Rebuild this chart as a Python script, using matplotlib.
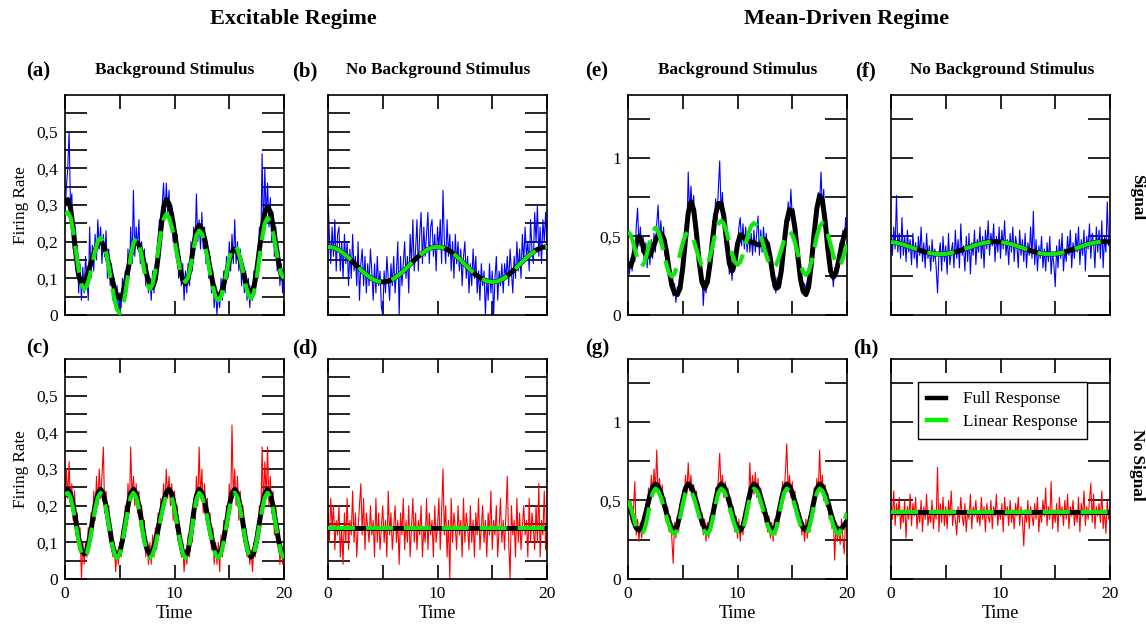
import numpy as np
import matplotlib
matplotlib.use('Agg')
from matplotlib import pyplot as plt
from matplotlib.lines import Line2D
from matplotlib.ticker import FixedLocator, FuncFormatter

plt.rcParams['font.family'] = 'Liberation Serif'

# time axes: smooth responses every 0.25, slow ones every 0.5, spike rates every 0.125
t_fine = np.arange(81) * 0.25
t_slow = np.arange(41) * 0.5
t_noise = np.arange(161) * 0.125
t_flat = [0, 20]

# ---- (a) excitable, background stimulus, signal
a_full = [0.300, 0.315, 0.293, 0.236, 0.164, 0.107, 0.085, 0.091, 0.107, 0.130, 0.155, 0.178, 0.194, 0.200,
          0.192, 0.171, 0.140, 0.105, 0.074, 0.053, 0.045, 0.055, 0.084, 0.123, 0.161, 0.190, 0.200,
          0.192, 0.169, 0.138, 0.106, 0.083, 0.075, 0.098, 0.158, 0.232, 0.292, 0.315,
          0.304, 0.272, 0.226, 0.174, 0.128, 0.096, 0.085, 0.100, 0.140, 0.190, 0.230, 0.245,
          0.235, 0.208, 0.169, 0.126, 0.087, 0.060, 0.050, 0.059, 0.083, 0.115, 0.148, 0.171, 0.180,
          0.172, 0.150, 0.120, 0.090, 0.068, 0.060, 0.075, 0.119, 0.178, 0.236, 0.279, 0.295,
          0.282, 0.245, 0.195, 0.145, 0.108, 0.095]
a_lin = [0.275, 0.280, 0.266, 0.228, 0.175, 0.123, 0.084, 0.070, 0.079, 0.105, 0.140, 0.175, 0.201, 0.210,
         0.200, 0.171, 0.130, 0.085, 0.044, 0.015, 0.005, 0.019, 0.056, 0.108, 0.159, 0.196, 0.210,
         0.197, 0.162, 0.118, 0.083, 0.070, 0.084, 0.121, 0.173, 0.224, 0.261, 0.275,
         0.266, 0.240, 0.203, 0.162, 0.125, 0.099, 0.090, 0.103, 0.138, 0.182, 0.217, 0.230,
         0.221, 0.194, 0.156, 0.114, 0.076, 0.049, 0.040, 0.050, 0.078, 0.115, 0.153, 0.180, 0.190,
         0.180, 0.154, 0.118, 0.081, 0.055, 0.045, 0.060, 0.100, 0.155, 0.210, 0.250, 0.265,
         0.254, 0.224, 0.183, 0.141, 0.111, 0.100]
a_rate = [.28, .35, .40, .50, .30, .33, .18, .25, .12, .19, .06, .14, .04, .13, .06, .16, .10, .04, .24, .10,
          .19, .12, .22, .15, .26, .18, .24, .14, .22, .16, .23, .10, .18, .08, .14, .04, .10, .02, .08, 0,
          .06, .02, .10, .04, .12, .06, .18, .10, .24, .14, .34, .16, .24, .18, .26, .14, .20, .12, .18, .08,
          .14, .06, .10, .04, .12, .06, .14, .10, .20, .26, .20, .30, .36, .26, .36, .28, .34, .24, .30, .20,
          .26, .16, .22, .10, .16, .08, .14, .04, .12, .06, .14, .08, .20, .12, .24, .18, .33, .20, .26, .18,
          .28, .18, .24, .14, .20, .10, .16, .06, .12, .02, .08, 0, .06, .02, .10, .04, .12, .06, .16, .10,
          .20, .12, .22, .14, .26, .14, .20, .12, .18, .08, .14, .06, .12, .04, .10, .02, .08, .04, .12, .06,
          .16, .10, .24, .16, .44, .22, .40, .26, .36, .24, .32, .20, .28, .16, .24, .12, .18, .08, .14, .06,
          .12]

# ---- (b) excitable, no background stimulus, signal
b_full = [.186, .184, .177, .166, .153, .138, .123, .110, .099, .092, .090, .092, .099, .110, .123, .138,
          .153, .166, .177, .184, .186, .184, .177, .166, .153, .138, .123, .110, .099, .092, .090, .092,
          .099, .110, .123, .138, .153, .166, .177, .184, .186]
b_lin = [.186, .184, .177, .166, .153, .138, .123, .110, .099, .092, .090, .092, .099, .110, .123, .138,
         .153, .166, .177, .184, .186, .184, .177, .166, .153, .138, .123, .110, .099, .092, .090, .092,
         .099, .110, .123, .138, .153, .166, .177, .184, .186]
b_rate = [.32, .22, .14, .24, .16, .26, .12, .22, .24, .12, .20, .10, .22, .14, .20, .08, .18, .10, .22, .12,
          .16, .08, .20, .04, .14, .18, .08, .16, .06, .14, .08, .18, .12, .04, .14, .06, .16, .08, .12, .02,
          0, .12, .06, .16, .10, .04, .14, .08, .16, .06, .12, .20, 0, .16, .08, .14, .20, .10, .16, .06,
          .22, .14, .26, .12, .18, .26, .12, .22, .28, .14, .24, .16, .22, .28, .14, .24, .26, .16, .22, .12,
          .24, .18, .26, .14, .34, .20, .14, .26, .16, .22, .12, .20, .10, .22, .14, .20, .12, .18, .08, .16,
          .20, .10, .16, .06, .14, .08, .18, .10, .16, .06, .12, .04, .14, .08, .12, 0, .10, .04, .14, .06,
          .12, 0, .10, .16, .04, .12, .08, .14, .06, .14, .10, .16, .08, .18, .12, .06, .16, .10, .20, .12,
          .18, .10, .22, .14, .24, .16, .20, .12, .26, .18, .14, .28, .20, .30, .16, .24, .14, .26, .20, .28,
          .18]

# ---- (c) excitable, background stimulus, no signal
c_full = [.225, .245, .233, .201, .157, .112, .080, .068, .080, .112, .157, .201, .233, .245,
          .233, .199, .153, .106, .072, .060, .072, .106, .153, .199, .233, .245,
          .233, .201, .157, .112, .080, .068, .077, .101, .137, .176, .212, .236, .245,
          .233, .199, .153, .106, .072, .060, .078, .124, .181, .227, .245,
          .236, .211, .175, .135, .099, .074, .065, .077, .110, .155, .200, .233, .245,
          .233, .199, .153, .106, .072, .060, .072, .106, .153, .199, .233, .245,
          .233, .199, .153, .106, .072, .060]
c_lin = [.230, .235, .223, .190, .146, .102, .069, .057, .069, .102, .146, .190, .223, .235,
         .223, .190, .146, .102, .069, .057, .069, .102, .146, .190, .223, .235,
         .223, .190, .146, .102, .069, .057, .066, .090, .126, .166, .202, .226, .235,
         .223, .190, .146, .102, .069, .057, .075, .119, .173, .217, .235,
         .226, .201, .166, .126, .091, .066, .057, .069, .102, .146, .190, .223, .235,
         .223, .190, .146, .102, .069, .057, .069, .102, .146, .190, .223, .235,
         .223, .190, .146, .102, .069, .057]
c_rate = [.20, .30, .22, .32, .20, .26, .16, .24, .12, .18, .08, .14, 0, .10, .04, .10, .06, .14, .08, .18,
          .12, .24, .16, .28, .20, .30, .22, .28, .36, .18, .24, .14, .20, .10, .14, .06, .10, .02, .08, .04,
          .10, .06, .14, .10, .20, .14, .26, .18, .36, .22, .28, .20, .26, .18, .24, .14, .20, .10, .16, .06,
          .10, .04, .10, .04, .12, .06, .14, .08, .18, .12, .22, .16, .26, .20, .30, .22, .28, .20, .26, .16,
          .24, .14, .20, .10, .14, .06, .10, .02, .08, .04, .12, .06, .16, .10, .22, .16, .28, .20, .36, .22,
          .30, .18, .26, .16, .22, .12, .18, .08, .14, .04, .10, .04, .10, .02, .12, .06, .16, .10, .20, .14,
          .26, .18, .42, .22, .30, .20, .28, .16, .24, .14, .20, .10, .14, .06, .10, .04, .08, .02, .10, .06,
          .14, .10, .20, .14, .36, .20, .32, .22, .36, .20, .28, .18, .24, .12, .20, .10, .14, .04, .10, .04,
          .08]

# ---- (d) excitable, no background stimulus, no signal
d_full = [0.138, 0.138]
d_lin = [0.138, 0.138]
d_rate = [.18, .10, .22, .14, .20, .08, .16, .12, .20, .06, .14, .04, .18, .10, .22, .08,
          .16, .12, .24, .10, .18, .06, .14, .20, .26, .12, .22, .08, .18, .14, .10, .20,
          .12, .16, .06, .22, .10, .18, .08, .14, .20, .10, .16, .06, .24, .12, .18, .08,
          .14, .20, .10, .16, .04, .18, .12, .22, .08, .16, .10, .20, .06, .14, .22, .10,
          .18, .08, .16, .12, .20, .06, .14, .10, .22, .08, .18, .12, .16, .06, .20, .10,
          .14, .22, .08, .18, .30, .12, .20, .06, .16, 0, .22, .10, .18, .14, .08, .20,
          .12, .16, .06, .22, .10, .18, .14, .08, .20, .10, .16, .06, .18, .12, .22, .08,
          .14, .20, .10, .16, .06, .18, .12, .24, .08, .16, .12, .20, .06, .14, .22, .10,
          .16, .08, .18, .28, .10, 0, .20, .12, .16, .06, .22, .10, .18, .08, .14, .20,
          .12, .16, .06, .22, .10, .18, .14, .08, .20, .10, .26, .06, .16, .12, .24, .08,
          .14]

# ---- (e) mean-driven, background stimulus, signal
e_full = [.33, .31, .37, .46, .50, .47, .40, .37, .38, .42, .47, .51, .52, .49, .41, .29, .19, .14, .13, .17,
          .30, .48, .65, .72, .67, .52, .34, .21, .17, .21, .33, .50, .64, .71, .71, .63, .47, .33, .28, .33,
          .45, .51, .50, .48, .47, .465, .46, .45, .445, .46, .48, .45, .36, .24, .17, .18, .28, .45, .60, .67,
          .66, .55, .38, .23, .15, .13, .18, .33, .52, .68, .76, .73, .60, .42, .28, .24, .27, .35, .44, .51,
          .55]
e_lin = [.530, .509, .454, .386, .331, .310, .333, .395, .470, .532, .555, .534, .478, .400, .323, .266,
         .245, .264, .316, .388, .459, .511, .530, .515, .473, .415, .358, .315, .300, .320, .375, .450,
         .525, .580, .600, .581, .530, .460, .390, .339, .320, .338, .386, .453, .519, .567, .585, .571,
         .531, .474, .411, .354, .314, .300, .315, .358, .415, .473, .515, .530, .512, .462, .393, .324,
         .273, .255, .277, .338, .420, .503, .563, .585, .567, .516, .448, .379, .328, .310, .335, .390,
         .450]
e_rate = [.38, .26, .36, .28, .44, .34, .56, .68, .44, .56, .40, .50, .32, .46, .30, .44, .32, .48, .36, .52,
          .40, .58, .70, .46, .60, .44, .56, .38, .48, .28, .36, .18, .26, .12, .20, .08, .18, .12, .24, .18,
          .38, .32, .58, .50, .91, .64, .82, .66, .76, .54, .60, .36, .40, .22, .28, .06, .22, .14, .28, .22,
          .40, .36, .60, .52, .74, .60, .80, .98, .66, .78, .56, .62, .40, .48, .26, .36, .22, .38, .28, .46,
          .40, .56, .62, .44, .58, .42, .56, .40, .54, .40, .52, .38, .54, .40, .52, .63, .38, .54, .40, .56,
          .42, .52, .38, .46, .30, .36, .18, .26, .14, .24, .16, .30, .24, .44, .40, .60, .54, .72, .60, .80,
          .62, .68, .48, .54, .32, .36, .18, .24, .14, .20, .16, .22, .14, .30, .28, .48, .46, .66, .62, .78,
          .70, .91, .68, .80, .54, .58, .36, .40, .24, .30, .18, .30, .24, .36, .30, .46, .38, .54, .44, .62,
          .50]

# ---- (f) mean-driven, no background stimulus, signal
f_full = [.465, .459, .451, .439, .427, .415, .403, .395, .389, .387, .389, .395, .403, .415, .427, .439,
          .451, .459, .465, .467, .465, .459, .451, .439, .427, .415, .403, .395, .389, .387, .389, .395,
          .403, .415, .427, .439, .451, .459, .465, .467, .465]
f_lin = [.465, .459, .451, .439, .427, .415, .403, .395, .389, .387, .389, .395, .403, .415, .427, .439,
         .451, .459, .465, .467, .465, .459, .451, .439, .427, .415, .403, .395, .389, .387, .389, .395,
         .403, .415, .427, .439, .451, .459, .465, .467, .465]
f_rate = [.50, .38, .56, .42, .76, .40, .52, .36, .62, .38, .50, .34, .54, .40, .48, .32,
          .52, .36, .46, .30, .50, .38, .56, .34, .46, .30, .52, .36, .44, .28, .48, .34,
          .42, .30, .14, .38, .46, .28, .50, .34, .44, .26, .52, .32, .40, .46, .30, .54,
          .36, .48, .30, .58, .38, .44, .28, .50, .34, .52, .26, .46, .38, .54, .32, .48,
          .40, .56, .36, .50, .30, .54, .42, .60, .38, .52, .44, .58, .34, .50, .40, .56,
          .36, .54, .42, .60, .38, .48, .32, .52, .40, .56, .34, .50, .44, .30, .54, .38,
          .48, .34, .52, .30, .46, .38, .56, .36, .66, .32, .48, .28, .44, .36, .50, .30,
          .42, .28, .46, .34, .50, .26, .40, .32, .18, .44, .30, .48, .36, .52, .28, .42,
          .34, .50, .38, .54, .30, .46, .36, .52, .40, .56, .32, .48, .38, .54, .28, .50,
          .42, .58, .36, .52, .46, .30, .56, .40, .54, .36, .60, .30, .50, .40, .72, .44,
          .48]

# ---- (g) mean-driven, background stimulus, no signal
g_full = [.495, .440, .370, .325, .310, .327, .384, .458, .531, .585, .605,
          .590, .549, .490, .425, .366, .325, .310, .338, .412, .503, .577, .605,
          .590, .549, .490, .425, .366, .325, .310, .338, .412, .503, .577, .605,
          .590, .549, .490, .425, .366, .325, .310, .338, .412, .503, .577, .605,
          .590, .549, .490, .425, .366, .325, .310, .338, .412, .503, .577, .605,
          .590, .549, .490, .425, .366, .325, .310, .338, .412, .503, .577, .605,
          .590, .549, .490, .425, .366, .325, .310, .320, .345, .370]
g_lin = [.500, .455, .395, .330, .300, .285, .313, .385, .475, .547, .575,
         .561, .520, .462, .398, .340, .300, .285, .313, .385, .475, .547, .575,
         .561, .520, .462, .398, .340, .300, .285, .313, .385, .475, .547, .575,
         .561, .520, .462, .398, .340, .300, .285, .313, .385, .475, .547, .575,
         .561, .520, .462, .398, .340, .300, .285, .313, .385, .475, .547, .575,
         .561, .520, .462, .398, .340, .300, .285, .313, .385, .475, .547, .575,
         .561, .520, .462, .398, .340, .300, .285, .320, .370, .420]
g_rate = [.46, .42, .50, .36, .44, .62, .28, .38, .24, .36, .26, .40, .32, .48, .40, .58, .48, .66, .54, .70,
          .56, .82, .54, .64, .50, .60, .44, .52, .36, .46, .30, .40, .26, .10, .36, .26, .40, .30, .48, .40,
          .56, .48, .66, .54, .74, .56, .66, .52, .60, .46, .56, .40, .48, .34, .42, .28, .38, .24, .36, .26,
          .40, .32, .48, .40, .58, .50, .64, .80, .56, .66, .52, .62, .50, .58, .42, .52, .38, .46, .30, .40,
          .26, .38, .24, .36, .28, .44, .36, .52, .44, .74, .52, .66, .54, .68, .52, .64, .48, .58, .42, .50,
          .36, .44, .30, .40, .26, .36, .24, .38, .28, .44, .34, .52, .46, .62, .52, .68, .86, .56, .66, .52,
          .62, .46, .56, .40, .48, .34, .42, .28, .36, .24, .38, .26, .40, .30, .48, .40, .58, .48, .64, .54,
          .82, .56, .66, .50, .60, .46, .54, .38, .48, .32, .40, .12, .36, .24, .34, .22, .38, .26, .16, .42,
          .30]

# ---- (h) mean-driven, no background stimulus, no signal
h_full = [0.425, 0.425]
h_lin = [0.425, 0.425]
h_rate = [.46, .38, .56, .34, .48, .40, .52, .32, .44, .36, .50, .26, .46, .38, .54, .34,
          .48, .40, .52, .32, .44, .36, .50, .30, .46, .38, .54, .34, .42, .36, .50, .32,
          .44, .38, .71, .30, .48, .36, .52, .34, .46, .32, .50, .40, .56, .34, .44, .38,
          .28, .46, .36, .52, .40, .34, .48, .30, .44, .38, .54, .32, .46, .40, .50, .36,
          .42, .34, .52, .38, .46, .30, .48, .40, .36, .50, .32, .46, .40, .54, .34, .44,
          .38, .48, .30, .52, .40, .46, .34, .50, .36, .44, .32, .48, .40, .52, .34, .46,
          .38, .21, .44, .36, .50, .32, .46, .40, .34, .48, .38, .52, .30, .44, .36, .50,
          .40, .58, .34, .46, .38, .62, .32, .44, .36, .48, .30, .52, .40, .46, .34, .50,
          .38, .54, .32, .46, .40, .50, .34, .44, .36, .52, .30, .48, .40, .56, .34, .46,
          .38, .50, .61, .36, .54, .32, .46, .40, .48, .36, .56, .32, .44, .29, .50, .38,
          .46]

BLUE = '#0000ff'
RED = '#ff0000'
GREEN = '#11e611'
W, H = 1146, 626


def comma(v, pos):
    return f'{v:g}'.replace('.', ',')


def px(x, y):
    return x / W, 1 - y / H


def make_axes(fig, left, top):
    x0, y1 = px(left, top)
    return fig.add_axes([x0, y1 - 220 / H, 219 / W, 220 / H])


def style(ax, excitable, show_x, show_y):
    ax.set_xlim(0, 20)
    ax.xaxis.set_major_locator(FixedLocator([0, 10, 20]))
    ax.xaxis.set_minor_locator(FixedLocator([5, 15]))
    if excitable:
        ax.set_ylim(0, 0.6)
        ax.yaxis.set_major_locator(FixedLocator([0, 0.1, 0.2, 0.3, 0.4, 0.5]))
        ax.yaxis.set_minor_locator(FixedLocator([0.05, 0.15, 0.25, 0.35, 0.45, 0.55]))
    else:
        ax.set_ylim(0, 1.4)
        ax.yaxis.set_major_locator(FixedLocator([0, 0.5, 1.0]))
        ax.yaxis.set_minor_locator(FixedLocator([0.25, 0.75, 1.25]))
    ax.yaxis.set_major_formatter(FuncFormatter(comma))
    ax.tick_params(which='both', direction='in', top=True, right=True, width=1.2,
                   labelsize=12.5, colors='black')
    ax.tick_params(axis='y', which='both', length=16, pad=5)
    ax.tick_params(axis='x', which='both', length=10, pad=5)
    ax.tick_params(labelbottom=show_x, labelleft=show_y)
    for sp in ax.spines.values():
        sp.set_linewidth(1.2)
    if show_x:
        ax.set_xlabel('Time', fontsize=13, labelpad=2)
    if show_y and excitable:
        ax.set_ylabel('Firing Rate', fontsize=12.3, labelpad=5)


def draw(ax, rate, color, t_smooth, full, lin):
    ax.plot(t_noise, rate, color=color, lw=0.8, zorder=2)
    ax.plot(t_smooth, full, color='black', lw=3.6, zorder=3, solid_capstyle='butt')
    ax.plot(t_smooth, lin, color=GREEN, lw=3.0, zorder=4, dashes=(6.5, 2.6))


fig = plt.figure(figsize=(W / 100, H / 100), dpi=100)

panels = [
    # left, top, excitable, show_x, show_y, rate, color, t, full, lin
    (65, 95, True, False, True, a_rate, BLUE, t_fine, a_full, a_lin),
    (328, 95, True, False, False, b_rate, BLUE, t_slow, b_full, b_lin),
    (65, 359, True, True, True, c_rate, RED, t_fine, c_full, c_lin),
    (328, 359, True, True, False, d_rate, RED, t_flat, d_full, d_lin),
    (628, 95, False, False, True, e_rate, BLUE, t_fine, e_full, e_lin),
    (891, 95, False, False, False, f_rate, BLUE, t_slow, f_full, f_lin),
    (628, 359, False, True, True, g_rate, RED, t_fine, g_full, g_lin),
    (891, 359, False, True, False, h_rate, RED, t_flat, h_full, h_lin),
]

axes = []
for left, top, exc, sx, sy, rate, col, ts, full, lin in panels:
    ax = make_axes(fig, left, top)
    draw(ax, rate, col, ts, full, lin)
    style(ax, exc, sx, sy)
    axes.append(ax)

# legend inside panel (h)
handles = [Line2D([], [], color='black', lw=3.2), Line2D([], [], color='#00f000', lw=3.2)]
leg = axes[-1].legend(handles, ['Full Response', 'Linear Response'], loc='upper left',
                      bbox_to_anchor=(0.123, 0.895), borderaxespad=0, fontsize=12.3,
                      handlelength=1.1, handletextpad=1.0, borderpad=0.55, labelspacing=0.38,
                      fancybox=False, framealpha=1)
leg.get_frame().set_edgecolor('black')
leg.get_frame().set_linewidth(1.0)

# headings
fig.text(*px(293, 19), 'Excitable Regime', ha='center', va='center', fontsize=16, fontweight='bold')
fig.text(*px(847, 19), 'Mean-Driven Regime', ha='center', va='center', fontsize=16, fontweight='bold')

for x, y, s in [(38, 71, '(a)'), (305, 71, '(b)'), (597, 71, '(e)'), (866, 71, '(f)'),
                (38, 348, '(c)'), (305, 348, '(d)'), (597, 348, '(g)'), (866, 348, '(h)')]:
    fig.text(*px(x, y), s, ha='center', va='center', fontsize=15, fontweight='bold')

for x, s in [(175, 'Background Stimulus'), (438, 'No Background Stimulus'),
             (738, 'Background Stimulus'), (1002, 'No Background Stimulus')]:
    fig.text(*px(x, 70), s, ha='center', va='center', fontsize=12.3, fontweight='bold')

fig.text(*px(1137, 197), 'Signal', ha='center', va='center', rotation=-90, fontsize=12.5, fontweight='bold')
fig.text(*px(1137, 465), 'No Signal', ha='center', va='center', rotation=-90, fontsize=12.5,
         fontweight='bold')

fig.savefig('out.png', dpi=100)
